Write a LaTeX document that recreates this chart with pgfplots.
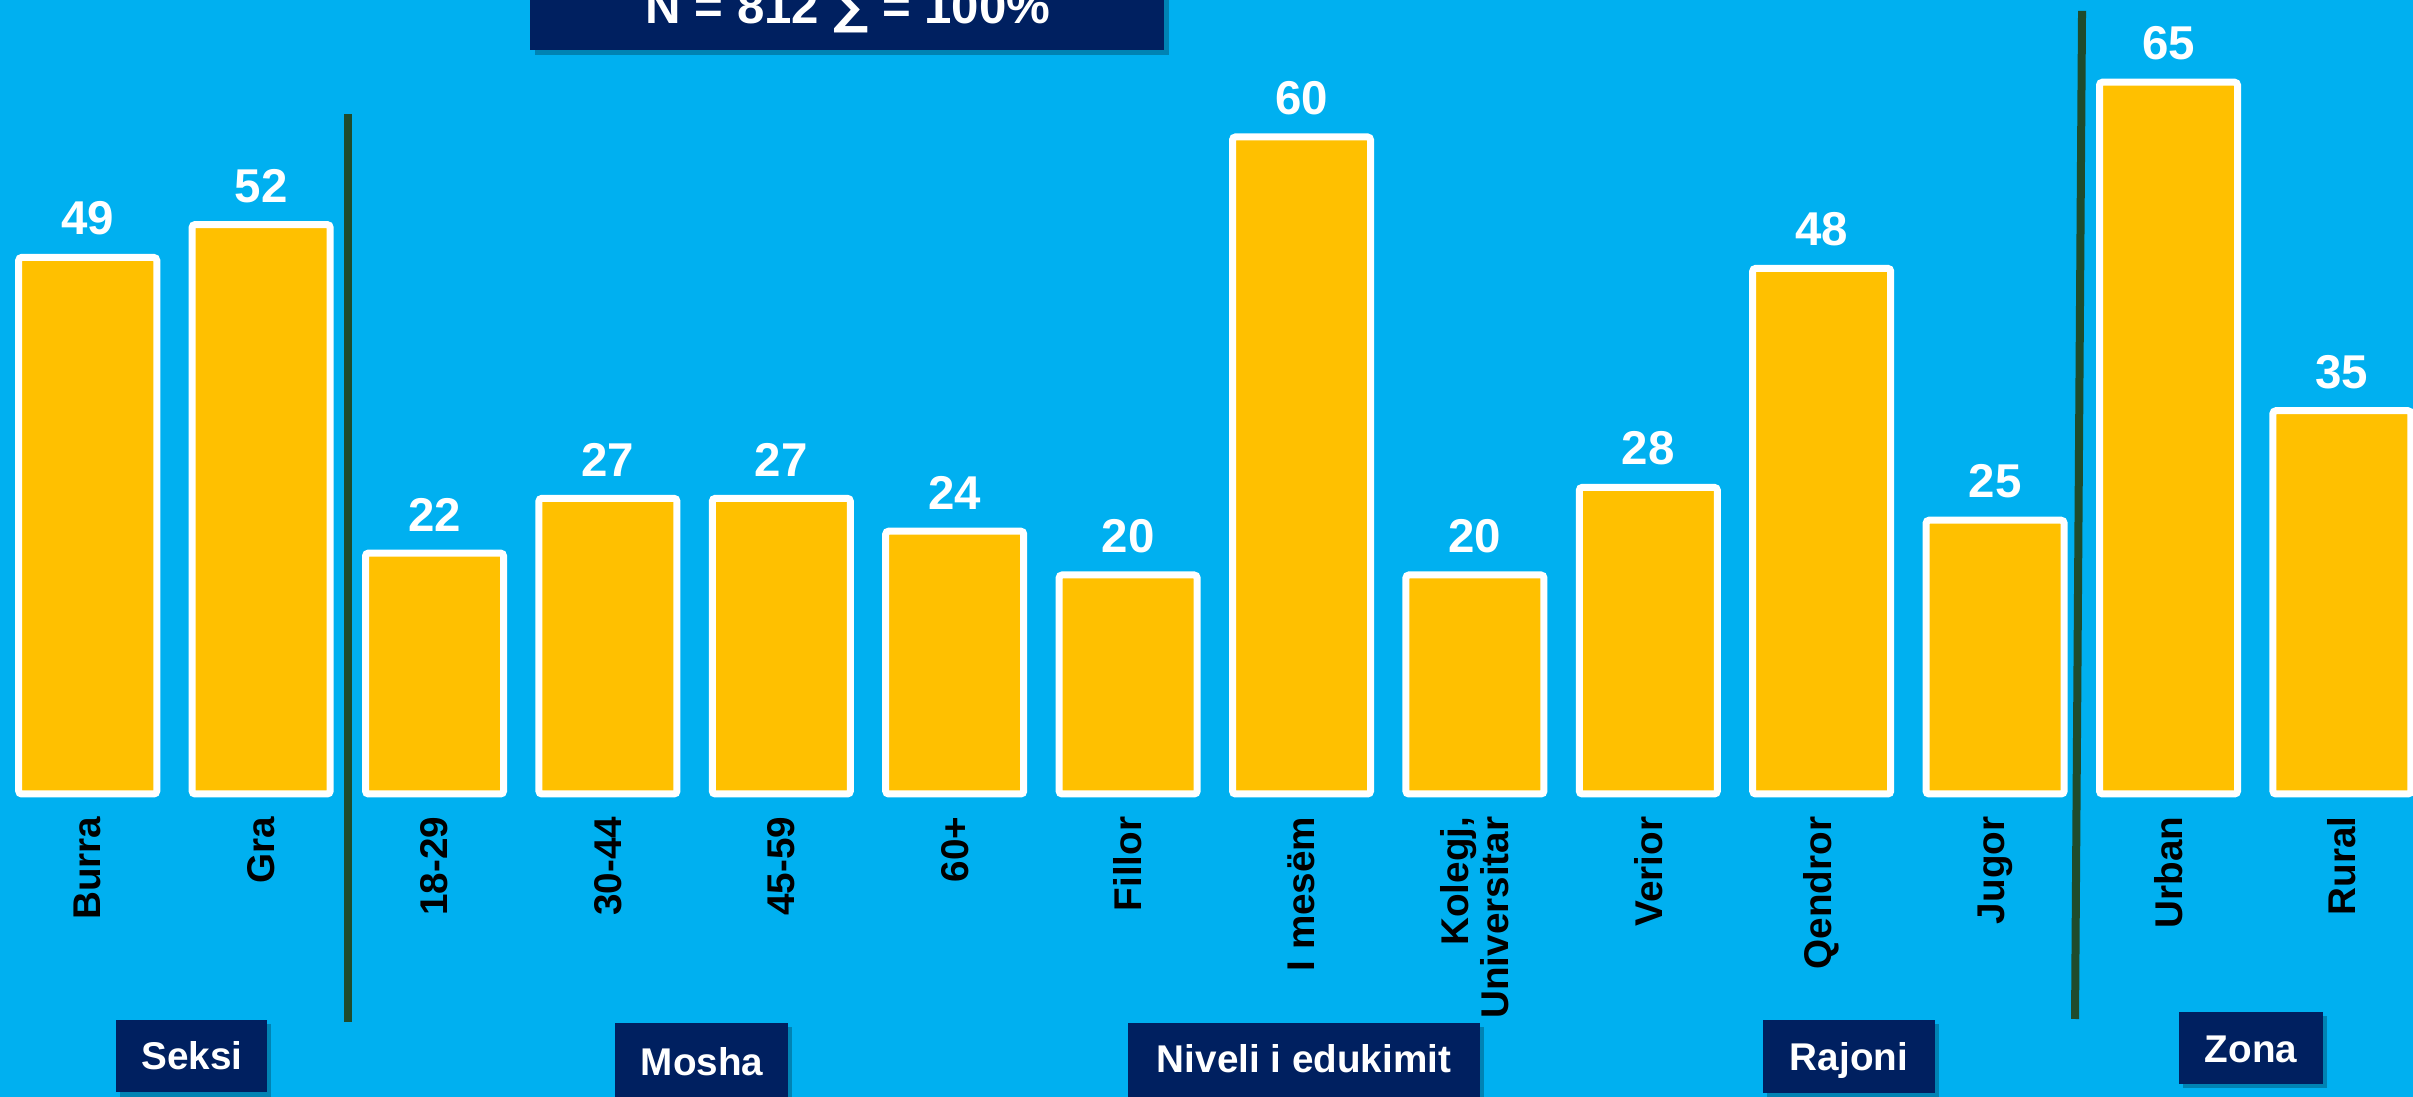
\documentclass[border=0pt]{standalone}
\usepackage{pgfplots}
\pgfplotsset{compat=1.18}
\usepackage{fontspec}
\setmainfont{Liberation Sans}
\newfontfamily\symfont{DejaVu Sans}
\definecolor{bgblue}{HTML}{00B0F0}
\definecolor{gold}{HTML}{FFC000}
\definecolor{navy}{HTML}{002060}
\definecolor{sepgreen}{HTML}{1F4B2C}
\begin{document}
\begin{tikzpicture}
\begin{axis}[
  scale only axis, width=241.3mm, height=109.7mm,
  xmin=-0.506, xmax=13.41, ymin=-27.67, ymax=72.51,
  axis background/.style={fill=bgblue},
  axis line style={draw=none}, tick style={draw=none}, major tick length=0pt,
  ytick=\empty,
  xtick={0,...,13},
  xticklabels={Burra,Gra,18-29,30-44,45-59,60+,Fillor,I mesëm,{Kolegj,\\Universitar},Verior,Qendror,Jugor,Urban,Rural},
  xticklabel style={yshift=28.1mm, rotate=90, anchor=east, inner sep=0pt, align=right, font=\fontsize{11}{11.5}\selectfont\bfseries, text=black},
  ybar, bar width=0.796,
  /pgf/number format/assume math mode=true,
  nodes near coords,
  nodes near coords style={font=\fontsize{13.5}{15}\selectfont\bfseries, text=white, anchor=south, inner sep=0pt, yshift=1.85mm},
  clip=true,
]
\addplot[fill=gold, draw=white, line width=0.7mm, rounded corners=0.3mm] coordinates {
(0,49) (1,52) (2,22) (3,27) (4,27) (5,24) (6,20) (7,60) (8,20) (9,28) (10,48) (11,25) (12,65) (13,35)};
\coordinate (NW) at (rel axis cs:0,1);
\coordinate (SE) at (rel axis cs:1,0);
\end{axis}
\begin{scope}[shift={(NW)}, x=0.1mm, y=-0.1mm]
  % separators
  \draw[sepgreen, line width=0.8mm] (348,114) -- (348,1022);
  \draw[sepgreen, line width=0.8mm] (2082,11) -- (2075,1019);
  % top box
  \fill[black, opacity=0.25] (535,-30) rectangle (1169,55);
  \fill[navy] (530,-30) rectangle (1164,50);
  \node[anchor=base, text=white, font=\fontsize{14}{16}\selectfont\bfseries, inner sep=0pt] at (848,24) {N = 812 {\symfont ∑} = 100\%};
  % bottom boxes
  \fill[black, opacity=0.25] (120,1024) rectangle (271,1097);
  \fill[navy] (116,1020) rectangle (267,1092);
  \node[anchor=base, text=white, font=\fontsize{11}{13}\selectfont\bfseries, inner sep=0pt] at (192,1070) {Seksi};
  \fill[black, opacity=0.25] (619,1027) rectangle (792,1100);
  \fill[navy] (615,1023) rectangle (788,1100);
  \node[anchor=base, text=white, font=\fontsize{11}{13}\selectfont\bfseries, inner sep=0pt] at (702,1076) {Mosha};
  \fill[black, opacity=0.25] (1132,1027) rectangle (1484,1100);
  \fill[navy] (1128,1023) rectangle (1480,1100);
  \node[anchor=base, text=white, font=\fontsize{11}{13}\selectfont\bfseries, inner sep=0pt] at (1304,1073) {Niveli i edukimit};
  \fill[black, opacity=0.25] (1767,1024) rectangle (1939,1097);
  \fill[navy] (1763,1020) rectangle (1935,1093);
  \node[anchor=base, text=white, font=\fontsize{11}{13}\selectfont\bfseries, inner sep=0pt] at (1849,1071) {Rajoni};
  \fill[black, opacity=0.25] (2183,1016) rectangle (2327,1088);
  \fill[navy] (2179,1012) rectangle (2323,1084);
  \node[anchor=base, text=white, font=\fontsize{11}{13}\selectfont\bfseries, inner sep=0pt] at (2251,1063) {Zona};
\end{scope}
\pgfresetboundingbox
\path[use as bounding box] (NW) rectangle (SE);
\end{tikzpicture}
\end{document}
